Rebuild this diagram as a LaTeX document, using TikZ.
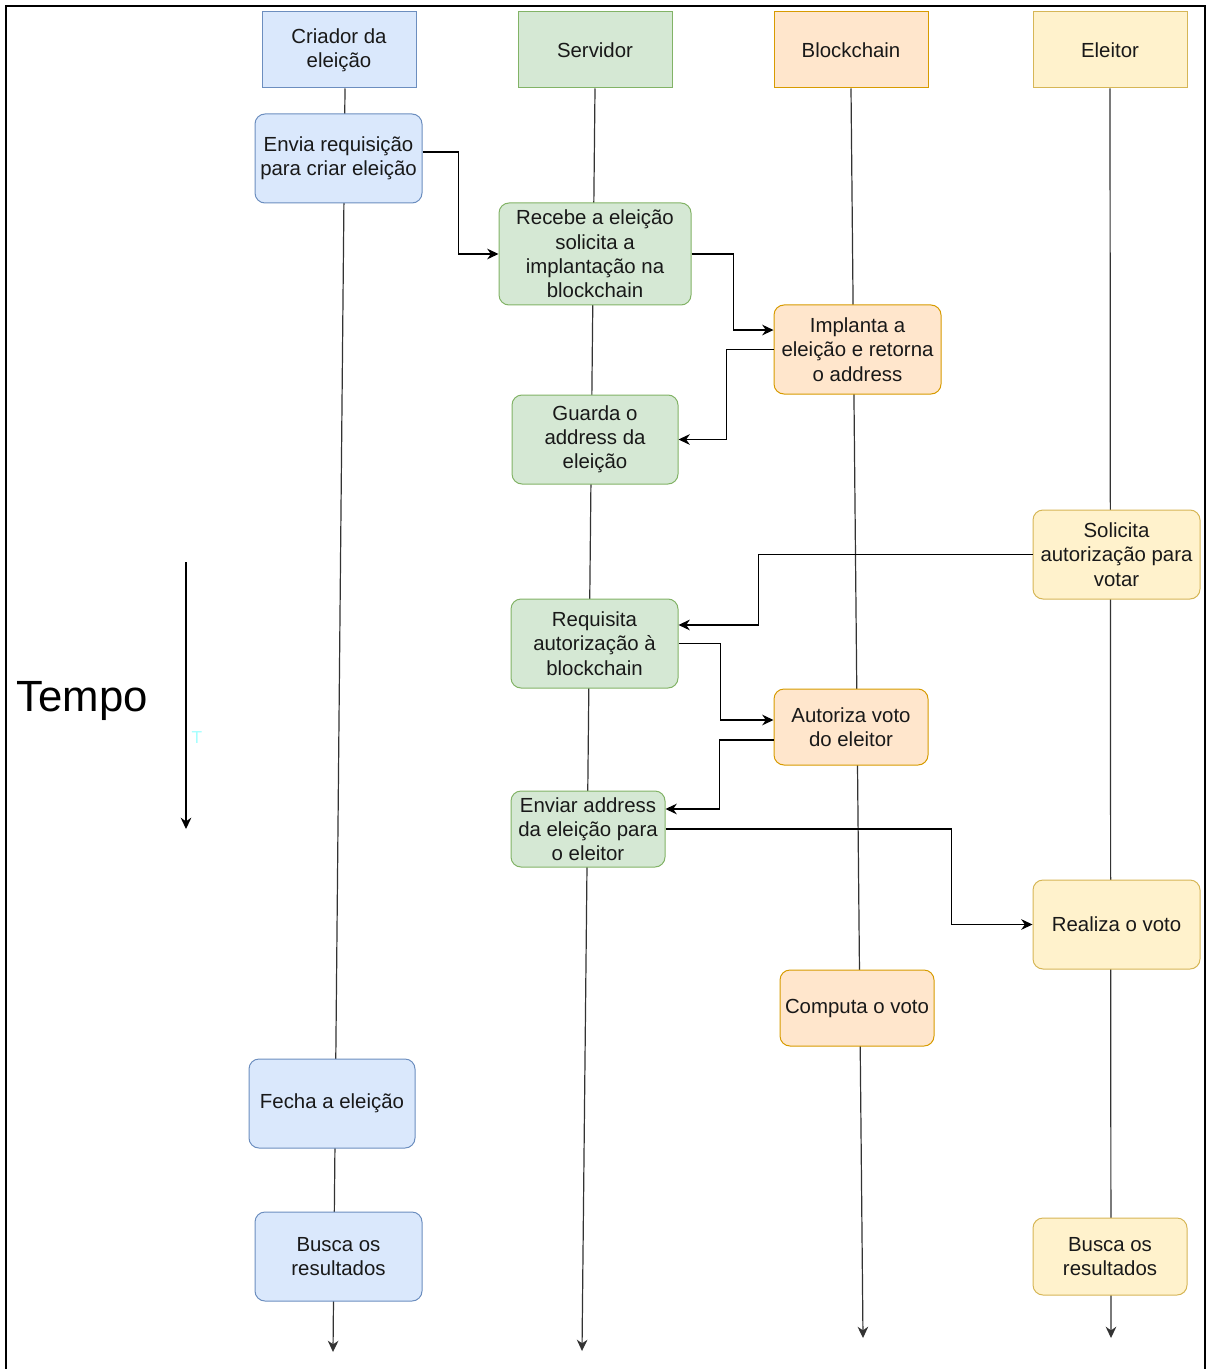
\documentclass[tikz,border=0pt]{standalone}
\usepackage{fontspec}
\setmainfont{Liberation Sans}
\usetikzlibrary{arrows.meta,backgrounds}

\definecolor{creatorFill}{HTML}{DAE8FC}
\definecolor{creatorLine}{HTML}{6C8EBF}
\definecolor{serverFill}{HTML}{D5E8D4}
\definecolor{serverLine}{HTML}{82B366}
\definecolor{chainFill}{HTML}{FFE6CC}
\definecolor{chainLine}{HTML}{D79B00}
\definecolor{voterFill}{HTML}{FFF2CC}
\definecolor{voterLine}{HTML}{D6B656}
\definecolor{lifeGray}{HTML}{333333}
\definecolor{faintCyan}{HTML}{A6FFFF}

\begin{document}
\begin{tikzpicture}[
    x=0.75pt, y=-0.75pt,
    mytext/.style={font=\fontsize{15.3}{18.2}\selectfont, align=center, text=black!90},
    myhead/.style={mytext, draw, line width=0.75pt, inner sep=0pt,
        minimum width=115.5pt, minimum height=57pt},
    mystep/.style={mytext, draw, line width=0.75pt, rounded corners=7.5pt, inner sep=0pt},
    boxsize/.style 2 args={minimum width=#1*0.75pt, minimum height=#2*0.75pt},
    creator/.style={fill=creatorFill, draw=creatorLine},
    server/.style={fill=serverFill, draw=serverLine},
    chain/.style={fill=chainFill, draw=chainLine},
    voter/.style={fill=voterFill, draw=voterLine},
    mylife/.style={-{Stealth[length=8.5pt,width=8pt]}, lifeGray, line width=0.9pt},
    myarrow/.style={-{Stealth[length=8.5pt,width=8pt]}, black, line width=0.9pt}
]
    \useasboundingbox (0,0) rectangle (1206,1369);

    % Frame
    \draw[line width=2pt] (6,1369) -- (6,6) -- (1205,6) -- (1205,1369);

    % Headers
    \node[myhead, creator] (Criador) at (339,50) {Criador da\\eleição};
    \node[myhead, server] (Servidor) at (595,50) {Servidor};
    \node[myhead, chain] (Blockchain) at (851,50) {Blockchain};
    \node[myhead, voter] (Eleitor) at (1110,50) {Eleitor};

    % Steps
    \node[mystep, creator, boxsize={167}{89}] (Envia) at (338.5,158.5) {Envia requisição\\para criar eleição};
    \node[mystep, server, boxsize={192}{102}] (Recebe) at (595,254) {Recebe a eleição\\solicita a\\implantação na\\blockchain};
    \node[mystep, chain, boxsize={167}{89}] (Implanta) at (857.5,349.5) {Implanta a\\eleição e retorna\\o address};
    \node[mystep, server, boxsize={166}{89}] (Guarda) at (595,439.5) {Guarda o\\address da\\eleição};
    \node[mystep, voter, boxsize={167}{89}] (Solicita) at (1116.5,554.5) {Solicita\\autorização para\\votar};
    \node[mystep, server, boxsize={167}{89}] (Requisita) at (594.5,643.5) {Requisita\\autorização à\\blockchain};
    \node[mystep, chain, boxsize={154}{76}] (Autoriza) at (851,727) {Autoriza voto\\do eleitor};
    \node[mystep, server, boxsize={154}{76}] (Enviar) at (588,829) {Enviar address\\da eleição para\\o eleitor};
    \node[mystep, voter, boxsize={167}{89}] (Realiza) at (1116.5,924.5) {Realiza o voto};
    \node[mystep, chain, boxsize={154}{76}] (Computa) at (857,1008) {Computa o voto};
    \node[mystep, creator, boxsize={166}{89}] (Fecha) at (332,1103.5) {Fecha a eleição};
    \node[mystep, creator, boxsize={167}{89}] (BuscaCriador) at (338.5,1256.5) {Busca os\\resultados};
    \node[mystep, voter, boxsize={154}{77}] (BuscaEleitor) at (1110,1256.5) {Busca os\\resultados};

    % Time axis
    \coordinate (tempoTop) at (186,562);
    \coordinate (tempoEnd) at (186,829);
    \draw[myarrow] (tempoTop) -- (tempoEnd);
    \node[font=\fontsize{32.8}{38}\selectfont] (Tempo) at (82,701) {Tempo};
    \node[font=\fontsize{13}{15}\selectfont, text=faintCyan] (tempoMark) at (197,738) {T};

    % Lifelines
    \coordinate (criadorEnd) at (333,1352);
    \coordinate (servidorEnd) at (582,1351);
    \coordinate (blockchainEnd) at (863,1338);
    \coordinate (eleitorEnd) at (1111,1338);
    \begin{scope}[on background layer]
        \draw[mylife] ([xshift=4.5pt]Criador.south) -- (criadorEnd);
        \draw[mylife] (Servidor.south) -- (servidorEnd);
        \draw[mylife] (Blockchain.south) -- (blockchainEnd);
        \draw[mylife] (Eleitor.south) -- (eleitorEnd);
    \end{scope}

    % Messages
    \draw[myarrow] ([yshift=4.9pt]Envia.east) -- ++(36,0) |- (Recebe.west);
    \draw[myarrow] (Recebe.east) -- ++(42,0) |- ([yshift=14.6pt]Implanta.west);
    \draw[myarrow] (Implanta.west) -- ++(-47,0) |- (Guarda.east);
    \draw[myarrow] (Solicita.west) -- ++(-274,0) |- ([yshift=13.9pt]Requisita.east);
    \draw[myarrow] (Requisita.east) -- ++(42,0) |- ([yshift=5.25pt]Autoriza.west);
    \draw[myarrow] ([yshift=-9.75pt]Autoriza.west) -- ++(-54,0) |- ([yshift=15pt]Enviar.east);
    \draw[myarrow] (Enviar.east) -- ++(286,0) |- (Realiza.west);
\end{tikzpicture}
\end{document}
